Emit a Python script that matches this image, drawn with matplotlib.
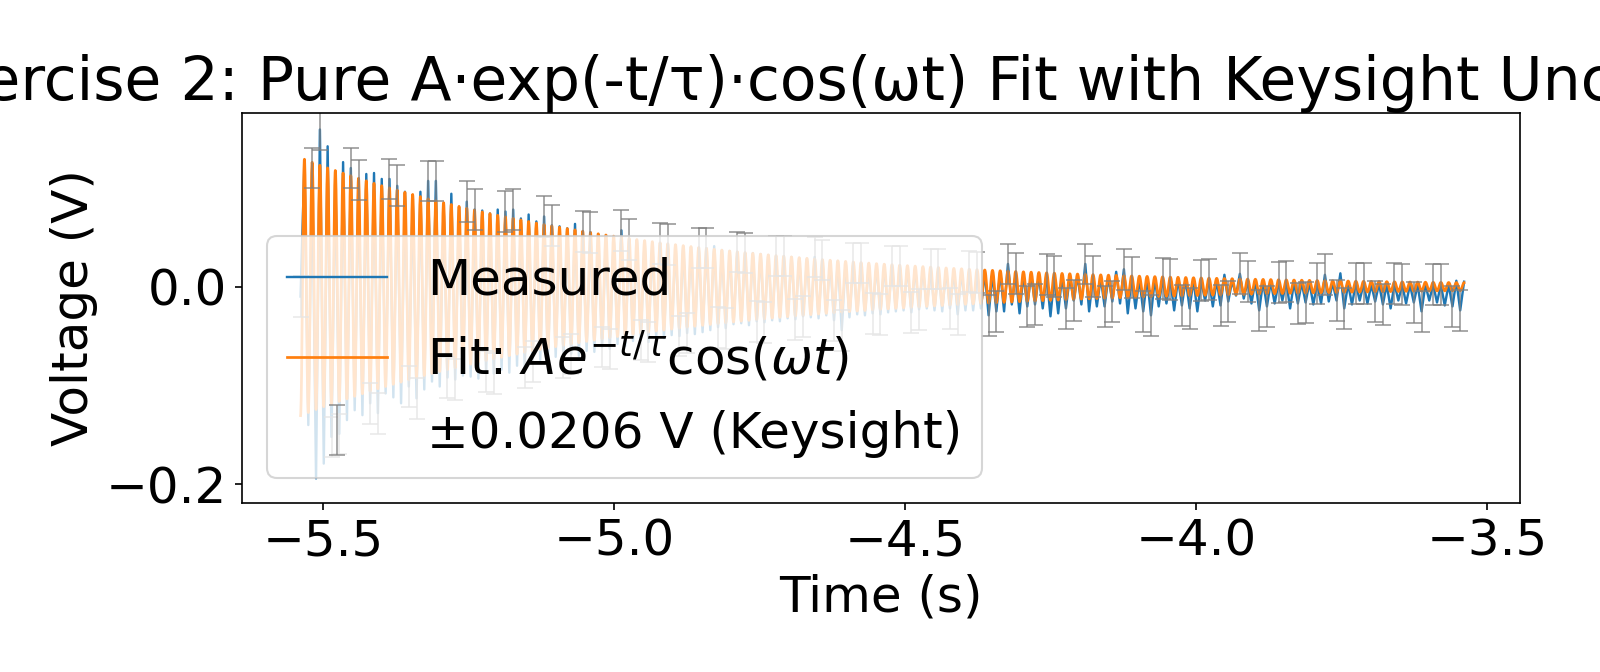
import numpy as np
import matplotlib
matplotlib.use("Agg")
import matplotlib.pyplot as plt

# ---- data ----
MEAS_T_START = -5.5393      # time of first sample (a trough), s
MEAS_PERIOD = 0.01329       # oscillation period, s (trough -> trough)

MEAS_TROUGHS = [
    -0.010, -0.140, -0.194, -0.179, -0.152, -0.149, -0.135, -0.125, -0.130, -0.118,
    -0.128, -0.108, -0.112, -0.118, -0.101, -0.113, -0.104, -0.096, -0.101, -0.092,
    -0.094, -0.090, -0.091, -0.093, -0.086, -0.088, -0.084, -0.087, -0.080, -0.082,
    -0.076, -0.074, -0.077, -0.071, -0.072, -0.068, -0.070, -0.065, -0.066, -0.061,
    -0.063, -0.058, -0.060, -0.055, -0.054, -0.056, -0.051, -0.052, -0.049, -0.050,
    -0.047, -0.048, -0.046, -0.044, -0.041, -0.042, -0.038, -0.037, -0.039, -0.035,
    -0.036, -0.034, -0.035, -0.032, -0.033, -0.030, -0.031, -0.032, -0.029, -0.034,
    -0.044, -0.031, -0.028, -0.029, -0.027, -0.028, -0.026, -0.025, -0.024, -0.026,
    -0.023, -0.022, -0.024, -0.025, -0.022, -0.028, -0.024, -0.024, -0.022, -0.029,
    -0.025, -0.025, -0.018, -0.027, -0.020, -0.018, -0.022, -0.030, -0.027, -0.022,
    -0.014, -0.018, -0.025, -0.020, -0.020, -0.015, -0.017, -0.027, -0.022, -0.025,
    -0.029, -0.020, -0.017, -0.024, -0.019, -0.022, -0.025, -0.014, -0.020, -0.019,
    -0.015, -0.009, -0.012, -0.017, -0.024, -0.020, -0.017, -0.014, -0.022, -0.017,
    -0.016, -0.018, -0.017, -0.015, -0.014, -0.022, -0.018, -0.014, -0.017, -0.015,
    -0.018, -0.022, -0.014, -0.017, -0.016, -0.025, -0.014, -0.016, -0.019, -0.020,
    -0.024,
]

MEAS_PEAKS = [
    0.125, 0.120, 0.159, 0.142, 0.115, 0.126, 0.120, 0.108, 0.114, 0.115,
    0.109, 0.109, 0.102, 0.096, 0.090, 0.096, 0.107, 0.107, 0.084, 0.094,
    0.080, 0.086, 0.078, 0.077, 0.074, 0.078, 0.076, 0.078, 0.069, 0.073,
    0.066, 0.071, 0.062, 0.061, 0.059, 0.0635, 0.056, 0.055, 0.053, 0.052,
    0.050, 0.057, 0.048, 0.047, 0.046, 0.044, 0.044, 0.043, 0.042, 0.041,
    0.040, 0.039, 0.039, 0.041, 0.037, 0.036, 0.035, 0.034, 0.034, 0.033,
    0.032, 0.031, 0.031, 0.030, 0.029, 0.028, 0.030, 0.027, 0.026, 0.026,
    0.025, 0.024, 0.024, 0.023, 0.022, 0.022, 0.021, 0.021, 0.020, 0.019,
    0.019, 0.018, 0.018, 0.017, 0.016, 0.016, 0.015, 0.014, 0.015, 0.013,
    0.015, 0.023, 0.013, 0.012, 0.013, 0.011, 0.012, 0.010, 0.011, 0.010,
    0.011, 0.023, 0.010, 0.009, 0.010, 0.015, 0.0176, 0.009, 0.008, 0.009,
    0.008, 0.008, 0.007, 0.008, 0.007, 0.007, 0.006, 0.007, 0.006, 0.012,
    0.006, 0.013, 0.005, 0.006, 0.005, 0.005, 0.004, 0.005, 0.004, 0.004,
    0.004, 0.003, 0.012, 0.004, 0.0135, 0.003, 0.003, 0.003, 0.002, 0.003,
    0.002, 0.003, 0.002, 0.002, 0.002, 0.002, 0.002, 0.002, 0.002, 0.006,
    0.005,
]

# fit parameters: A e^{-t/tau} cos(omega t)
FIT_A_REF = 0.129           # amplitude at the first peak
FIT_T_REF = -5.5327         # time of the first peak, s
FIT_TAU = 0.575             # s
FIT_FREQ = 75.24            # Hz

SIGMA = 0.0206              # Keysight uncertainty, V

TITLE = "Exercise 2: Pure A·exp(-t/τ)·cos(ωt) Fit with Keysight Uncertainty"
XLABEL = "Time (s)"
YLABEL = "Voltage (V)"
XTICKS = [-5.5, -5.0, -4.5, -4.0, -3.5]
YTICKS = [-0.2, 0.0]
LABEL_MEAS = "Measured"
LABEL_FIT = r"Fit: $Ae^{-t/\tau}\cos(\omega t)$"
LABEL_ERR = "±0.0206 V (Keysight)"

# ---- build series ----
n = len(MEAS_TROUGHS)
k = np.arange(n)
t_tr = MEAS_T_START + k * MEAS_PERIOD
t_pk = t_tr + MEAS_PERIOD / 2
t_meas = np.empty(2 * n)
v_meas = np.empty(2 * n)
t_meas[0::2] = t_tr
t_meas[1::2] = t_pk
v_meas[0::2] = MEAS_TROUGHS
v_meas[1::2] = MEAS_PEAKS

t_fit = np.linspace(t_meas[0], t_meas[-1], 6000)
omega = 2 * np.pi * FIT_FREQ
v_fit = FIT_A_REF * np.exp(-(t_fit - FIT_T_REF) / FIT_TAU) * np.cos(omega * (t_fit - FIT_T_REF))

idx = np.arange(t_meas.size)
err_mask = (idx % 5 == 0) | (idx % 5 == 3)

# ---- plot ----
plt.rcParams['font.family'] = ['DejaVu Sans']
plt.rcParams['font.size'] = 24

fig = plt.figure(figsize=(1600 / 150, 672 / 150), dpi=150)
ax = fig.add_axes([0.15125, 0.2519, 0.79875, 0.5804])

ax.plot(t_meas, v_meas, color='#1f77b4', lw=1.15, label=LABEL_MEAS)
ax.plot(t_fit, v_fit, color='#ff7f0e', lw=1.3, label=LABEL_FIT)
ax.errorbar(t_meas, v_meas, yerr=SIGMA, fmt='none', ecolor='gray',
            elinewidth=0.8, capsize=4, capthick=0.8, alpha=0.8,
            errorevery=err_mask, label=LABEL_ERR)

ax.set_xlim(-5.640, -3.443)
ax.set_ylim(-0.2186, 0.176)
ax.set_xticks(XTICKS)
ax.set_yticks(YTICKS)
ax.set_xlabel(XLABEL)
ax.set_ylabel(YLABEL)
ax.set_title(TITLE)
ax.legend(loc='lower left')

fig.savefig("out.png", dpi=150)
